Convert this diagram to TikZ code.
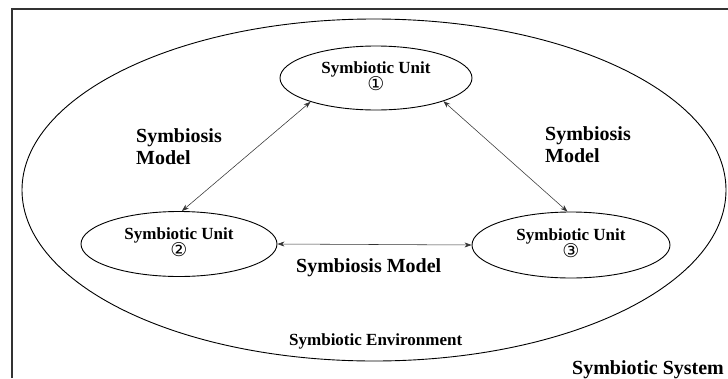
\documentclass[tikz,border=0pt]{standalone}
\usepackage{fontspec}
\setmainfont{Liberation Serif}
\newfontfamily\circfont{DejaVu Sans}
\newcommand\circnum[1]{{\circfont\mdseries\fontsize{19}{19}\selectfont #1}}
\newcommand\unittext[1]{\begin{tabular}{@{}c@{}}\fontsize{17}{19}\selectfont\bfseries Symbiotic Unit\\[-1pt]\circnum{#1}\end{tabular}}
\usetikzlibrary{shapes.geometric,arrows.meta}
\begin{document}
\begin{tikzpicture}[x=1pt,y=-1pt,
  unit/.style={ellipse,draw,line width=0.9pt,inner sep=0pt},
  outer/.style={ellipse,draw,line width=0.9pt,inner sep=0pt},
  rel/.style={draw=black!80,line width=0.55pt,{Stealth[length=7pt,width=5pt]}-{Stealth[length=7pt,width=5pt]}},
  lbl/.style={font=\bfseries\fontsize{20}{22}\selectfont,inner sep=0pt,align=left},
  lbls/.style={font=\bfseries\fontsize{17}{19}\selectfont,inner sep=0pt}
]
\useasboundingbox (0,0) rectangle (728,378);
% frame
\draw[line width=1.3pt,black!80] (12,378) -- (12,9) -- (728,9);
% outer environment ellipse
\node[outer,minimum width=704pt,minimum height=342pt] (env) at (374,190) {};
% units
\node[unit,minimum width=192pt,minimum height=64pt] (u1) at (376,78) {\unittext{①}};
\node[unit,minimum width=196pt,minimum height=65pt] (u2) at (179,244) {\unittext{②}};
\node[unit,minimum width=198pt,minimum height=66pt] (u3) at (571,245) {\unittext{③}};
% relations
\draw[rel] (u1.200) -- (u2.85);
\draw[rel] (u1.341) -- (u3.96);
\draw[rel] (u2.east) -- (u3.west);
% labels
\node[lbl,anchor=north west] (m1) at (136,128.5) {Symbiosis\\Model};
\node[lbl,anchor=north west] (m2) at (545,126.5) {Symbiosis\\Model};
\node[lbl,anchor=base west] (m3) at (296,272) {Symbiosis Model};
\node[lbls,anchor=base west] (envl) at (289,345) {Symbiotic Environment};
\node[lbl,anchor=base west] (sys) at (572,374) {Symbiotic System};
\end{tikzpicture}
\end{document}
